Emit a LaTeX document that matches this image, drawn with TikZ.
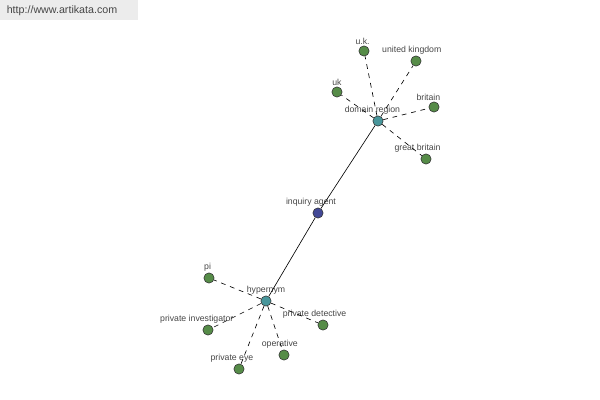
\documentclass[tikz,border=0pt]{standalone}
\usepackage{fontspec}
\setmainfont{Liberation Sans}
\definecolor{leafgreen}{RGB}{86,140,72}
\definecolor{hubteal}{RGB}{72,150,155}
\definecolor{rootblue}{RGB}{66,72,150}
\definecolor{labelgray}{RGB}{70,70,70}
\definecolor{markgray}{RGB}{236,236,236}
\tikzset{
  term/.style={circle,draw=black!80,line width=0.4pt,inner sep=0pt,minimum size=7.3pt,fill=leafgreen},
  hub/.style={term,fill=hubteal},
  root/.style={term,fill=rootblue},
  lbl/.style={text=labelgray,font=\fontsize{6.2}{7}\selectfont,inner sep=0.8pt},
  rel/.style={dash pattern=on 3.4pt off 3.4pt,line width=0.45pt},
  link/.style={line width=0.45pt}
}
\begin{document}
\begin{tikzpicture}[x=0.025cm,y=-0.025cm]
\useasboundingbox (0,0) rectangle (600,400);
\fill[markgray] (0,0) rectangle (138,20);
\node[text=labelgray,font=\fontsize{7.6}{9}\selectfont] (site) at (62,11) {http://www.artikata.com};

% hubs
\node[hub,label={[lbl,label distance=0pt,xshift=-4pt]above:domain region}] (domain) at (378,121) {};
\node[root,label={[lbl,label distance=0pt,xshift=-5pt]above:inquiry agent}] (inquiry) at (318,213) {};
\node[hub,label={[lbl,label distance=0pt]above:hypernym}] (hypernym) at (266,301) {};

% domain region terms
\node[term,label={[lbl,label distance=0pt,xshift=-1pt]above:u.k.}] (uk2) at (364,51) {};
\node[term,label={[lbl,label distance=0pt,xshift=-3pt]above:united kingdom}] (unitedkingdom) at (416,61) {};
\node[term,label={[lbl,label distance=0pt]above:uk}] (uk1) at (337,92) {};
\node[term,label={[lbl,label distance=0pt,xshift=-4pt]above:britain}] (britain) at (434,107) {};
\node[term,label={[lbl,label distance=0pt,xshift=-6pt]above:great britain}] (greatbritain) at (426,159) {};

% hypernym terms
\node[term,label={[lbl,label distance=0pt,xshift=-1pt]above:pi}] (pi) at (209,278) {};
\node[term,label={[lbl,label distance=0pt,xshift=-8pt]above:private investigator}] (investigator) at (208,330) {};
\node[term,label={[lbl,label distance=0pt,xshift=-6pt]above:private detective}] (detective) at (323,325) {};
\node[term,label={[lbl,label distance=0pt,xshift=-3pt]above:operative}] (operative) at (284,355) {};
\node[term,label={[lbl,label distance=0pt,xshift=-5pt]above:private eye}] (privateeye) at (239,369) {};

\draw[link] (domain) -- (inquiry);
\draw[link] (inquiry) -- (hypernym);

\foreach \t in {uk2,unitedkingdom,uk1,britain,greatbritain}
  \draw[rel] (domain) -- (\t);
\foreach \t in {pi,investigator,detective,operative,privateeye}
  \draw[rel] (hypernym) -- (\t);
\end{tikzpicture}
\end{document}
